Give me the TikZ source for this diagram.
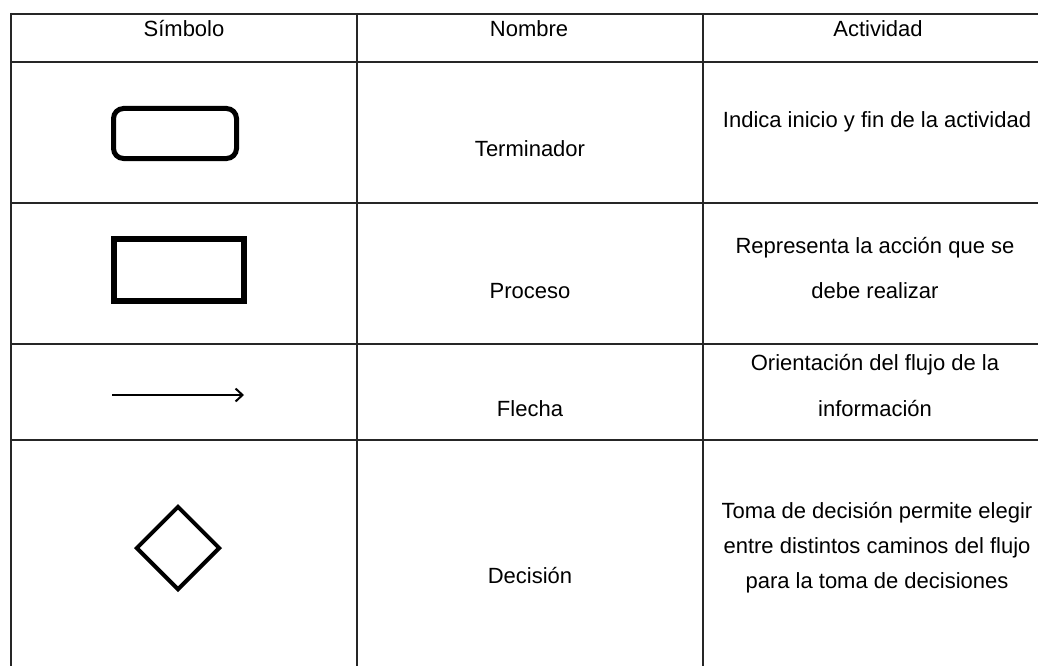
\documentclass[tikz,border=0pt]{standalone}
\usepackage{fontspec}
\setmainfont{Liberation Sans}
\usetikzlibrary{shapes.geometric,arrows.meta}
\begin{document}
\begin{tikzpicture}[x=1pt,y=-1pt,
  gridline/.style={line width=1.8pt,draw=black!85},
  txt/.style={anchor=base,inner sep=0pt,font=\fontsize{22}{26}\selectfont},
  termbox/.style={draw,rectangle,rounded corners=10pt,line width=5pt,minimum width=123pt,minimum height=50pt,inner sep=0pt},
  procbox/.style={draw,rectangle,line width=6pt,minimum width=130pt,minimum height=62pt,inner sep=0pt},
  decbox/.style={draw,diamond,line width=4pt,minimum width=84pt,minimum height=84pt,inner sep=0pt},
  flowarrow/.style={line width=2pt,-{Straight Barb[length=7pt,width=13pt,line width=2pt]}}
]
\clip (0,0) rectangle (1038,666);
\fill[white] (0,0) rectangle (1038,666);
% grid
\draw[gridline] (11,14) -- (1060,14);
\draw[gridline] (11,62) -- (1060,62);
\draw[gridline] (11,203) -- (1060,203);
\draw[gridline] (11,344) -- (1060,344);
\draw[gridline] (11,440) -- (1060,440);
\draw[gridline] (11,13) -- (11,680);
\draw[gridline] (357,13) -- (357,680);
\draw[gridline] (703,13) -- (703,680);
% headers
\node[txt] (h1) at (184,37) {Símbolo};
\node[txt] (h2) at (529,37) {Nombre};
\node[txt] (h3) at (878,37) {Actividad};
% symbols
\node[termbox] (term) at (175,133.5) {};
\node[procbox] (proc) at (179,270) {};
\coordinate (aS) at (112,395);
\coordinate (aE) at (244,395);
\draw[flowarrow] (aS) -- (aE);
\node[decbox] (dec) at (178,548) {};
% names
\node[txt] (n1) at (530,157) {Terminador};
\node[txt] (n2) at (530,298) {Proceso};
\node[txt] (n3) at (530,416) {Flecha};
\node[txt] (n4) at (530,583) {Decisión};
% activities
\node[txt] (a1) at (877,128) {Indica inicio y fin de la actividad};
\node[txt] (a2a) at (875,253) {Representa la acción que se};
\node[txt] (a2b) at (875,298) {debe realizar};
\node[txt] (a3a) at (875,370) {Orientación del flujo de la};
\node[txt] (a3b) at (875,416) {información};
\node[txt] (a4a) at (877,518) {Toma de decisión permite elegir};
\node[txt] (a4b) at (877,553) {entre distintos caminos del flujo};
\node[txt] (a4c) at (877,588) {para la toma de decisiones};
\end{tikzpicture}
\end{document}
